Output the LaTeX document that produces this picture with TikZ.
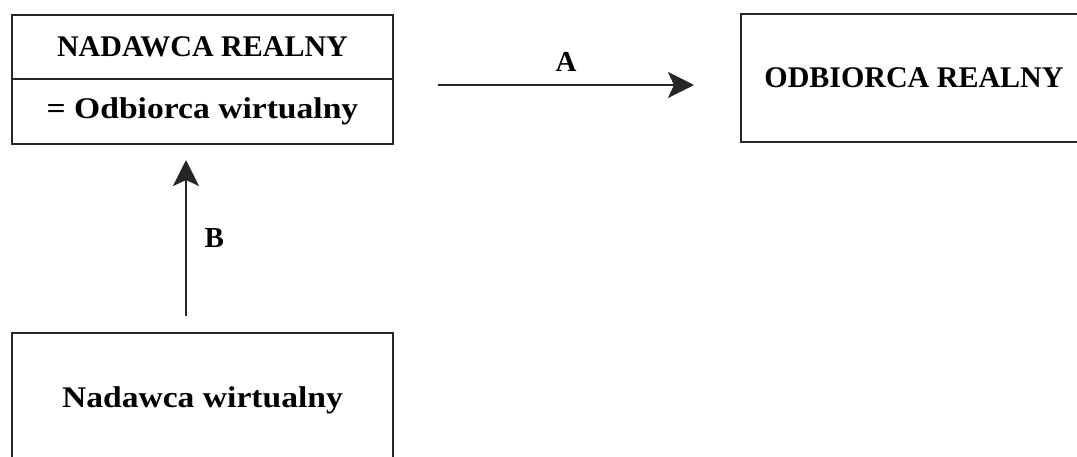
\documentclass[tikz,border=0pt]{standalone}
\usepackage{fontspec}
\setmainfont{Liberation Serif}
\newfontfamily\widefont[FakeStretch=1.12]{Liberation Serif}
\usetikzlibrary{arrows.meta}
\begin{document}
\begin{tikzpicture}[x=1pt,y=-1pt,
  box/.style={draw=black!85,line width=2.4pt,outer sep=0pt,inner sep=0pt,font=\fontsize{30}{34}\selectfont\bfseries},
  widebox/.style={box,font=\fontsize{30}{34}\selectfont\widefont\bfseries},
  conn/.style={draw=black!85,line width=2.6pt,-{Stealth[length=26pt,width=26pt,inset=6pt]}},
  lab/.style={font=\fontsize{29}{32}\selectfont\bfseries}]
\useasboundingbox (0,0) rectangle (1077,456);
% top-left split box
\node[box,minimum width=381pt,minimum height=64pt] (nr) at (202.5,47) {NADAWCA REALNY};
\node[widebox,minimum width=381pt,minimum height=65pt,anchor=north] (ow) at (nr.south) {= Odbiorca wirtualny};
% right box
\node[box,minimum width=346pt,minimum height=128pt] (or) at (914,78) {ODBIORCA REALNY};
% bottom box
\node[widebox,minimum width=381pt,minimum height=134pt] (nw) at (202.5,400) {Nadawca wirtualny};
% arrows
\coordinate (a1) at (438,85);
\coordinate (a2) at (694,85);
\draw[conn] (a1) -- (a2) node[lab,midway,above=9pt] (la) {A};
\coordinate (b1) at (186,316);
\coordinate (b2) at (186,160);
\draw[conn] (b1) -- (b2) node[lab,pos=0.5,right=14pt] (lb) {B};
\end{tikzpicture}
\end{document}
